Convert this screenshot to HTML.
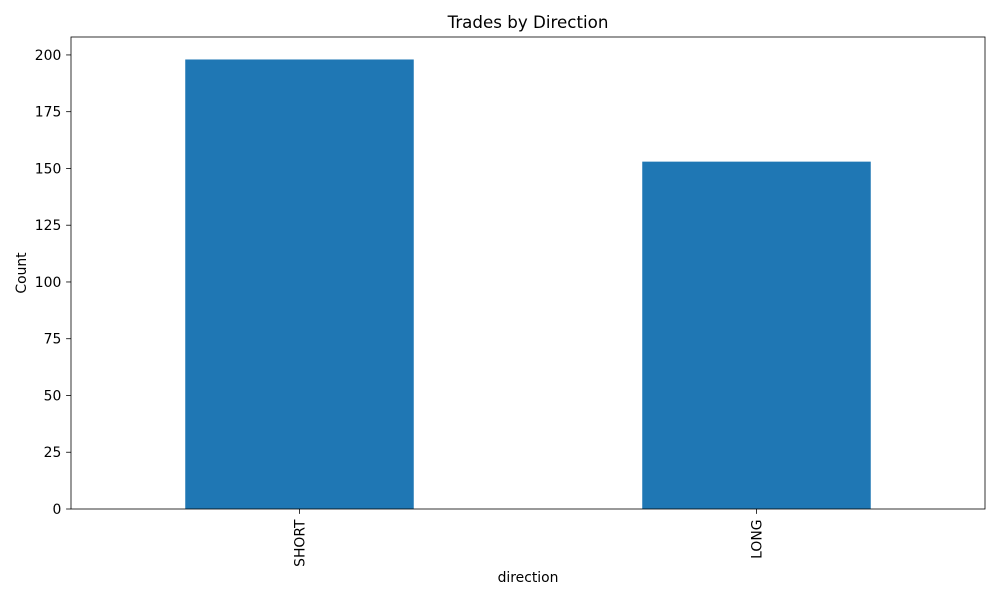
<!DOCTYPE html>
<html><head><meta charset="utf-8"><style>
body{margin:0;background:#fff;font-family:"Liberation Sans","DejaVu Sans",sans-serif;}
svg text{font-family:"DejaVu Sans","Liberation Sans",sans-serif;}
</style></head><body>
<svg id="chart" width="1000" height="600" xmlns="http://www.w3.org/2000/svg">
<rect width="1000" height="600" fill="#fff"/>
<text x="528" y="28" font-size="16.7" text-anchor="middle" fill="#000">Trades by Direction</text>
<g id="bars"></g>
<g id="yticks"></g>
<g id="xticks"></g>
<rect x="71" y="37" width="914" height="472" fill="none" stroke="#000" stroke-width="0.8"/>
<text x="528" y="582" font-size="13.9" text-anchor="middle">direction</text>
<text transform="translate(26,273) rotate(-90)" font-size="13.9" text-anchor="middle">Count</text>
</svg>
<script>
const categories = ["SHORT", "LONG"];
const counts = [198, 153];
const yTickValues = [0, 25, 50, 75, 100, 125, 150, 175, 200];

const L = 71, R = 985, T = 37, B = 509;
const yMax = Math.max(...counts) * 1.05;
const y = v => B - v / yMax * (B - T);
const unit = (R - L) / categories.length;
const x = i => L + unit * (i + 0.5);
const ns = "http://www.w3.org/2000/svg";
function mk(tag, attrs, parent) {
  const e = document.createElementNS(ns, tag);
  for (const k in attrs) e.setAttribute(k, attrs[k]);
  parent.appendChild(e);
  return e;
}
const bars = document.getElementById("bars");
counts.forEach((v, i) => {
  const r = mk("rect", {x: x(i) - unit / 4, y: y(v), width: unit / 2, height: B - y(v), fill: "#1f77b4"}, bars);
  
  
});
const yt = document.getElementById("yticks");
yTickValues.forEach(v => {
  const l = mk("line", {x1: L - 4.9, x2: L, y1: y(v), y2: y(v), stroke: "#000", "stroke-width": 0.8}, yt);
  
  
  const t = mk("text", {x: L - 9.7, y: y(v) + 5, "font-size": 13.9, "text-anchor": "end"}, yt);
  t.textContent = v;
  
  
});
const xt = document.getElementById("xticks");
categories.forEach((c, i) => {
  const l = mk("line", {x1: x(i), x2: x(i), y1: B, y2: B + 4.9, stroke: "#000", "stroke-width": 0.8}, xt);
  
  
  const t = mk("text", {transform: `translate(${x(i) + 5},${B + 10.5}) rotate(-90)`, "font-size": 13.9, "text-anchor": "end"}, xt);
  t.textContent = c;
  
  
});
</script>
</body></html>
